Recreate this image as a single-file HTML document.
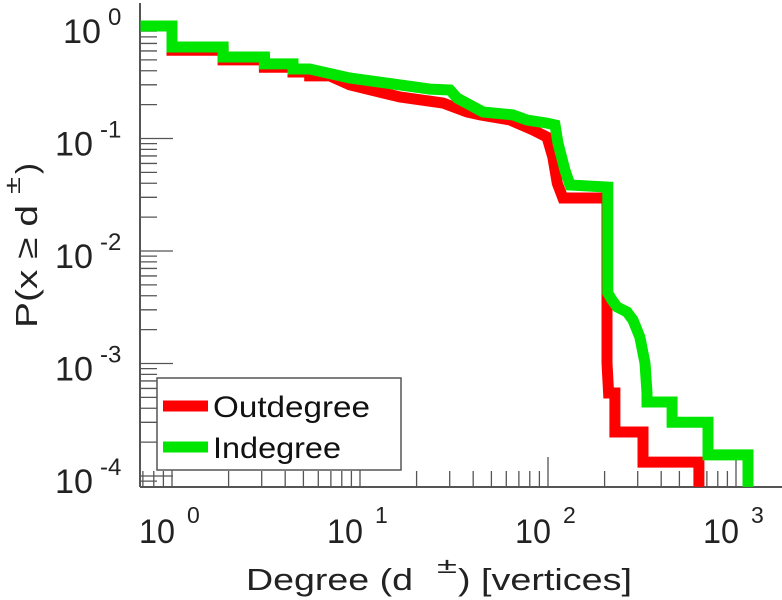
<!DOCTYPE html>
<html><head><meta charset="utf-8"><style>
html,body{margin:0;padding:0;background:#fff;}
svg{display:block;font-family:"Liberation Sans",sans-serif;}
</style></head><body>
<svg id="chart" width="782" height="600" viewBox="0 0 782 600">
<defs><clipPath id="plotclip"><rect x="140" y="5" width="642" height="482"/></clipPath></defs>
<g id="axes"></g>
<g id="series" clip-path="url(#plotclip)"></g>
<g id="legend">
  <rect x="157" y="378" width="244" height="92" fill="#fff" stroke="#555" stroke-width="1.5"/>
  <line x1="163" y1="406" x2="208" y2="406" stroke="#ff0000" stroke-width="11"/>
  <text x="213" y="417" font-size="30" textLength="157" lengthAdjust="spacingAndGlyphs" fill="#111">Outdegree</text>
  <line x1="163" y1="447" x2="208" y2="447" stroke="#00e600" stroke-width="11"/>
  <text x="213" y="458" font-size="30" textLength="128" lengthAdjust="spacingAndGlyphs" fill="#111">Indegree</text>
</g>
<g fill="#222">
  <text x="246" y="590" font-size="31" textLength="167" lengthAdjust="spacingAndGlyphs">Degree (d</text>
  <text x="437" y="573" font-size="22" textLength="20" lengthAdjust="spacingAndGlyphs">±</text>
  <text x="458" y="590" font-size="31" textLength="174" lengthAdjust="spacingAndGlyphs">) [vertices]</text>
</g>
<g transform="translate(37,0) rotate(-90)" fill="#222">
  <text x="-328" y="0" font-size="31" textLength="123" lengthAdjust="spacingAndGlyphs">P(x ≥ d</text>
  <text x="-194" y="-17" font-size="22" textLength="17" lengthAdjust="spacingAndGlyphs">±</text>
  <text x="-174" y="0" font-size="31" textLength="11" lengthAdjust="spacingAndGlyphs">)</text>
</g>
</svg>
<script>
const xDecades = [0, 1, 2, 3];
const yDecades = [0, -1, -2, -3, -4];
const outDegree = [0.68,1,1,1.87,1.87,3.1,3.1,4.4,4.4,5.4,5.4,6.9,8.8,16.3,27.6,37.1,43.5,62.8,83.2,98.8,106,112,120,206,206,210,227,227,320,320,635,635];
const outProb = [1,1,0.61,0.61,0.50,0.50,0.43,0.43,0.39,0.39,0.36,0.36,0.30,0.234,0.207,0.172,0.162,0.146,0.119,0.103,0.0685,0.040,0.0296,0.0296,0.00101,0.000547,0.000547,0.000246,0.000246,0.000133,0.000133,0.00008];
const inDegree = [0.68,1,1,1.87,1.87,3.1,3.1,4.4,4.4,5.4,8.8,23.6,30.1,32.8,45.1,65.1,77.3,98.8,109,113,123,131,208,208,219,233,263,283,308,328,336,336,457,457,710,710,1158,1158];
const inProb = [1,1,0.65,0.65,0.53,0.53,0.46,0.46,0.415,0.415,0.345,0.275,0.27,0.229,0.172,0.162,0.146,0.137,0.132,0.091,0.0525,0.0386,0.037,0.00424,0.00367,0.00318,0.00287,0.00244,0.00172,0.00101,0.00055,0.000455,0.000455,0.0003,0.0003,0.000154,0.000154,0.00008];

const NS = 'http://www.w3.org/2000/svg';
const X0 = 172, DX = 188, Y0 = 26, DY = 112.5, AXB = 487, AXL = 140;
function xs(v){ return X0 + Math.log10(v) * DX; }
function ys(v){ return Y0 - Math.log10(v) * DY; }
function mk(tag, attrs, parent){ const e = document.createElementNS(NS, tag); for (const k in attrs) e.setAttribute(k, attrs[k]); parent.appendChild(e); return e; }

const axes = document.getElementById('axes');
const yl = mk('line', {x1:AXL, y1:3, x2:AXL, y2:AXB, stroke:'#555', 'stroke-width':2}, axes);


const xl = mk('line', {x1:AXL, y1:AXB, x2:782, y2:AXB, stroke:'#555', 'stroke-width':2}, axes);



for (let d = -1; d <= 3; d++) {
  for (let m = 1; m <= 9; m++) {
    const v = m * Math.pow(10, d);
    const px = xs(v);
    if (px < AXL || px > 782) continue;
    const len = m === 1 ? 30 : 16;
    const t = mk('line', {x1:px, y1:AXB, x2:px, y2:AXB - len, stroke:'#555', 'stroke-width':1.3}, axes);
    
    
  }
}
xDecades.forEach(e => {
  const px = xs(Math.pow(10, e));
  const t = mk('text', {x:px - 33, y:543, 'font-size':34, textLength:36, lengthAdjust:'spacingAndGlyphs', fill:'#222'}, axes);
  
  
  t.textContent = '10';
  const s = mk('text', {x:px + 15, y:523, 'font-size':23, fill:'#222'}, axes);
  
  
  s.textContent = String(e);
});

for (let d = -5; d <= 0; d++) {
  for (let m = 1; m <= 9; m++) {
    const v = m * Math.pow(10, d);
    const py = ys(v);
    if (py < 3 || py > AXB) continue;
    const len = m === 1 ? 33 : 17;
    const t = mk('line', {x1:AXL, y1:py, x2:AXL + len, y2:py, stroke:'#555', 'stroke-width':1.3}, axes);
    
    
  }
}
yDecades.forEach(e => {
  const py = ys(Math.pow(10, e));
  const right = e === 0 ? 101 : 93;
  const t = mk('text', {x:right - 38, y:py + 17, 'font-size':34, textLength:38, lengthAdjust:'spacingAndGlyphs', fill:'#222'}, axes);
  
  
  t.textContent = '10';
  const s = mk('text', {x:right + 7, y:py - 1, 'font-size':24, fill:'#222'}, axes);
  
  
  s.textContent = String(e);
});

const series = document.getElementById('series');
function drawSeries(xsArr, ysArr, color, name){
  const pts = xsArr.map((v, i) => xs(v).toFixed(1) + ',' + ys(ysArr[i]).toFixed(1)).join(' ');
  const p = mk('polyline', {points:pts, fill:'none', stroke:color, 'stroke-width':11, 'stroke-linejoin':'miter'}, series);
  
  
}
drawSeries(outDegree, outProb, '#ff0000', 'outdegree-line');
drawSeries(inDegree, inProb, '#00e600', 'indegree-line');
</script>
</body></html>
